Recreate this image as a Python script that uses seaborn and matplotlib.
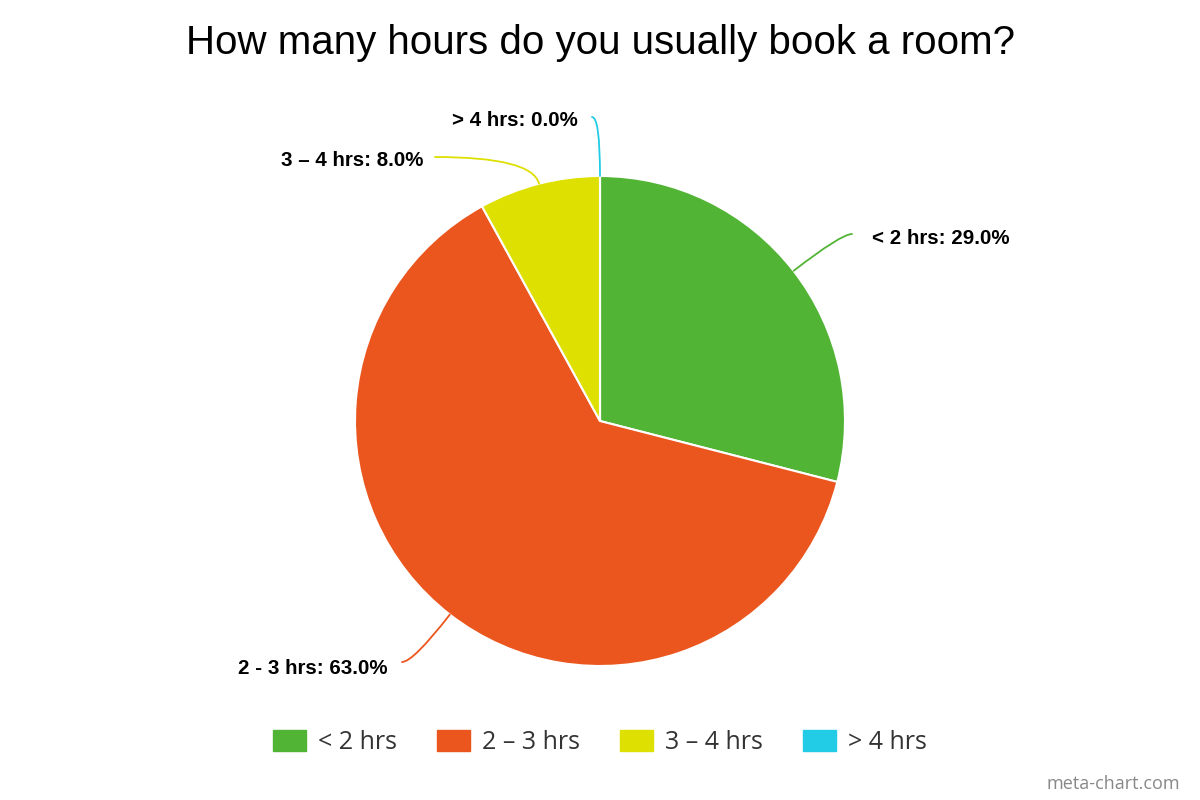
import numpy as np
import matplotlib
matplotlib.use("Agg")
import matplotlib.pyplot as plt
import seaborn as sns

categories = ["< 2 hrs", "2 – 3 hrs", "3 – 4 hrs", "> 4 hrs"]
label_names = ["< 2 hrs", "2 - 3 hrs", "3 – 4 hrs", "> 4 hrs"]
shares = [29.0, 63.0, 8.0, 0.0]
colors = ["#52b435", "#eb561e", "#dde000", "#23cce6"]

sns.set_theme(style="white")
plt.rcParams['font.family'] = ['Liberation Sans', 'DejaVu Sans']

fig = plt.figure(figsize=(12, 8), dpi=100)
ax = fig.add_axes([0, 0, 1, 1])
ax.set_xlim(0, 1200)
ax.set_ylim(0, 800)
ax.set_aspect("equal")
ax.axis("off")

palette = sns.color_palette(colors)
cx, cy, r = 600, 379, 245
wedges, _ = ax.pie(shares, colors=palette, startangle=90, counterclock=False,
                   center=(cx, cy), radius=r,
                   wedgeprops=dict(edgecolor="white", linewidth=1.5))
ax.set_xlim(0, 1200)
ax.set_ylim(0, 800)

# label placement: (line end, text anchor x, text y, ha)
label_pos = [
    ((852, 566), 872, 562, "left"),
    ((402, 138), 388, 132, "right"),
    ((435, 643), 423, 639, "right"),
    ((592, 683), 578, 680, "right"),
]

for w, name, val, col, (end, tx, ty, ha) in zip(wedges, label_names, shares, palette, label_pos):
    mid = np.deg2rad((w.theta1 + w.theta2) / 2)
    edge = (cx + r * np.cos(mid), cy + r * np.sin(mid))
    ang = np.rad2deg(mid) % 180
    ax.annotate("", xy=edge, xytext=end,
                arrowprops=dict(arrowstyle="-", color=col, lw=1.3,
                                shrinkA=0, shrinkB=0,
                                connectionstyle=f"angle3,angleA=0,angleB={ang:.1f}"))
    ax.text(tx, ty, f"{name}: {val:.1f}%", ha=ha, va="center",
            fontsize=14.8, fontweight="bold", color="black")

ax.text(600, 757, "How many hours do you usually book a room?", ha="center",
        va="center", fontsize=29, color="black")

handles = [plt.Rectangle((0, 0), 1, 1, color=c) for c in palette]
fig.legend(handles, categories, loc="center", bbox_to_anchor=(0.5, 0.0715),
           ncol=4, frameon=False, handlelength=1.3, handleheight=0.9,
           columnspacing=1.6, handletextpad=0.5, labelcolor="#333333",
           prop={"family": ["Open Sans", "DejaVu Sans"], "size": 18})

ax.text(1180, 16, "meta-chart.com", ha="right", va="center", fontsize=13,
        color="#888888", family=["Open Sans", "DejaVu Sans"])

fig.savefig("out.png", dpi=100)
